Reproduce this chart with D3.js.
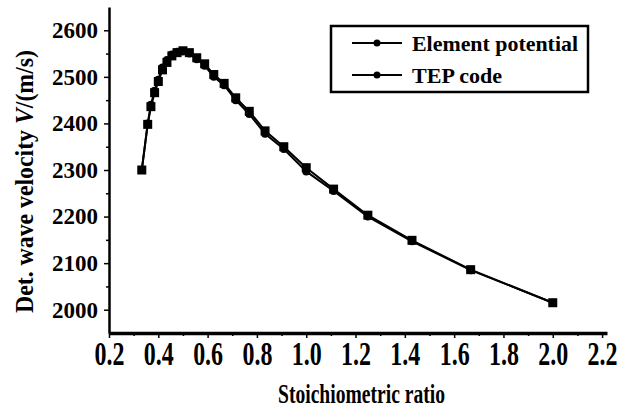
<!DOCTYPE html>
<html><head><meta charset="utf-8">
<script src="https://cdn.jsdelivr.net/npm/d3@7"></script>
<style>
html,body{margin:0;padding:0;background:#fff;}
svg{display:block;}
</style></head>
<body>
<svg id="c" width="626" height="412"></svg>
<script>
const ratio = [0.333,0.357,0.370,0.385,0.400,0.417,0.435,0.455,0.476,0.500,0.526,0.556,0.588,0.625,0.667,0.714,0.769,0.833,0.909,1.000,1.111,1.250,1.429,1.667,2.000];
const elementPotential = [2300,2398,2436,2466,2490,2515,2531,2545,2552,2556,2552,2541,2528,2505,2486,2455,2426,2384,2350,2305,2259,2203,2149,2086,2015];
const tepCode = [2300,2400,2440,2470,2494,2520,2536,2548,2554,2555,2550,2538,2524,2500,2482,2450,2420,2378,2345,2297,2255,2200,2147,2085,2015];
const xTicks = [0.2,0.4,0.6,0.8,1.0,1.2,1.4,1.6,1.8,2.0,2.2];
const yTicks = [2000,2100,2200,2300,2400,2500,2600];
const seriesNames = ["Element potential","TEP code"];

const FONT = "Liberation Serif";
const svg = d3.select("#c");
const x = d3.scaleLinear().domain([0.2,2.22]).range([109,607]);
const y = d3.scaleLinear().domain([1950,2650]).range([333,7]);

function styleText(sel, size){
  sel.style("font-family",FONT).style("font-weight","bold").style("font-size",size+"px").style("fill","#000");
}

// minor ticks
const xMinor = d3.range(0.3,2.2,0.2);
const yMinor = d3.range(2050,2650,100);
const xAxisMinor = svg.append("g").attr("transform","translate(0,333)");
xAxisMinor.call(d3.axisBottom(x).tickValues(xMinor).tickSize(3).tickFormat(""));
xAxisMinor.select(".domain").remove();
xAxisMinor.selectAll(".tick line").attr("stroke-width",1.5);

const yAxisMinor = svg.append("g").attr("transform","translate(109,0)");
yAxisMinor.call(d3.axisLeft(y).tickValues(yMinor).tickSize(3).tickFormat(""));
yAxisMinor.select(".domain").remove();
yAxisMinor.selectAll(".tick line").attr("stroke-width",1.5);

// major axes
const xAxis = svg.append("g").attr("transform","translate(0,333)");
xAxis.call(d3.axisBottom(x).tickValues(xTicks).tickSize(5).tickSizeOuter(0).tickFormat(d3.format(".1f")));
xAxis.select(".domain").attr("stroke","#000").attr("stroke-width",3.5);
xAxis.selectAll(".tick line").attr("stroke-width",1.5);
xAxis.selectAll(".tick text").call(styleText,24)
  .attr("dy",null).attr("y",0)
  .attr("transform","translate(0,32) scale(1,1.36)");

const yAxis = svg.append("g").attr("transform","translate(109,0)");
yAxis.call(d3.axisLeft(y).tickValues(yTicks).tickSize(5).tickSizeOuter(0).tickPadding(6).tickFormat(d3.format("d")));
yAxis.select(".domain").attr("stroke","#000").attr("stroke-width",2.5);
yAxis.selectAll(".tick line").attr("stroke-width",1.5);
yAxis.selectAll(".tick text").call(styleText,23);

// titles
svg.append("text").attr("x",278).attr("y",0)
  .attr("textLength",167).attr("lengthAdjust","spacingAndGlyphs")
  .attr("transform","translate(0,403) scale(1,1.4)")
  .call(styleText,20)
  .text("Stoichiometric ratio");
const yt = svg.append("text").attr("transform","translate(33,313) rotate(-90)")
  .attr("textLength",263).attr("lengthAdjust","spacingAndGlyphs").call(styleText,25);
yt.append("tspan").text("Det. wave velocity ");
yt.append("tspan").style("font-style","italic").text("V");
yt.append("tspan").text("/(m/s)");

// lines
const line = d3.line().x(d=>x(d[0])).y(d=>y(d[1]));
const d1 = ratio.map((r,i)=>[r,elementPotential[i]]);
const d2 = ratio.map((r,i)=>[r,tepCode[i]]);
svg.append("path").datum(d1).attr("d",line).attr("fill","none").attr("stroke","#000").attr("stroke-width",2);
svg.append("path").datum(d2).attr("d",line).attr("fill","none").attr("stroke","#000").attr("stroke-width",2);
svg.selectAll("rect.m1").data(d1).enter().append("rect").attr("class","m1")
  .attr("x",d=>x(d[0])-4.5).attr("y",d=>y(d[1])-4.5).attr("width",9).attr("height",9).attr("fill","#000");
svg.selectAll("circle.m2").data(d2).enter().append("circle").attr("class","m2")
  .attr("cx",d=>x(d[0])).attr("cy",d=>y(d[1])).attr("r",4).attr("fill","#000");

// legend
svg.append("rect").attr("x",331).attr("y",26).attr("width",257).attr("height",66)
  .attr("fill","#fff").attr("stroke","#000").attr("stroke-width",2.5);
const legY = [43,75];
const legLen = [166,90];
seriesNames.forEach((n,i)=>{
  svg.append("line").attr("x1",352).attr("x2",402).attr("y1",legY[i]).attr("y2",legY[i]).attr("stroke","#000").attr("stroke-width",2);
  svg.append("circle").attr("cx",377).attr("cy",legY[i]).attr("r",3.5).attr("fill","#000");
  svg.append("text").attr("x",412).attr("y",legY[i]+8)
    .attr("textLength",legLen[i]).attr("lengthAdjust","spacingAndGlyphs").call(styleText,21).text(n);
});
</script>
</body></html>
